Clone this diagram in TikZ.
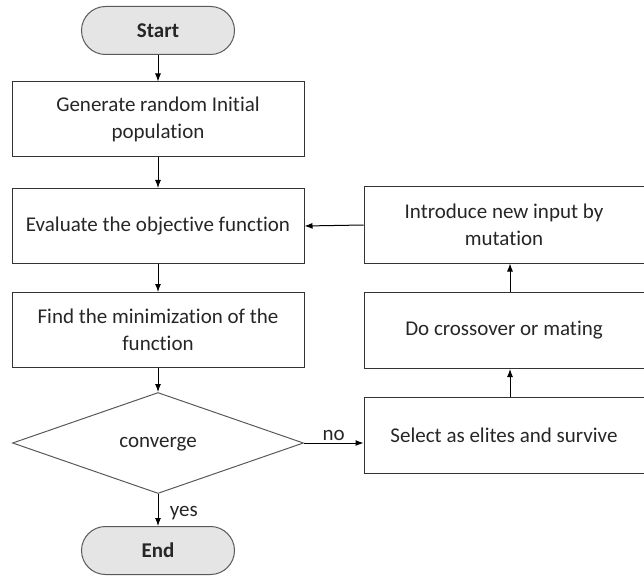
\documentclass[tikz,border=0pt]{standalone}
\usepackage{fontspec}
\setmainfont[Ligatures={NoCommon}]{Carlito}
\usetikzlibrary{shapes.geometric,arrows.meta}
\begin{document}
\begin{tikzpicture}[x=1pt,y=-1pt,
  every node/.style={font=\fontsize{21}{27}\selectfont, text=black!85},
  procbox/.style={draw=black!80, line width=1pt, minimum width=292pt, minimum height=75pt, align=center, inner sep=0pt},
  rbox/.style={draw=black!80, line width=1pt, minimum width=280pt, minimum height=76pt, align=center, inner sep=0pt},
  term/.style={draw=black!65, line width=1pt, fill=black!10, rounded corners=24pt, minimum width=153pt, minimum height=48pt, font=\fontsize{21}{27}\selectfont\bfseries},
  dec/.style={draw=black!65, line width=1pt, diamond, minimum width=291pt, minimum height=101pt, aspect=2.9, inner sep=0pt},
  arr/.style={draw=black, line width=1pt, -{Latex[length=8pt,width=6pt]}}
]
\useasboundingbox (0,0) rectangle (644,577);
\node[term] (start) at (158,30.5) {Start};
\node[procbox] (gen) at (158,119.5) {Generate random Initial\\population};
\node[procbox] (eval) at (158,226) {Evaluate the objective function};
\node[procbox] (find) at (158,330) {Find the minimization of the\\function};
\node[dec] (conv) at (158,443) {};
\node at (158,444) {converge};
\node[term] (end) at (158,550.5) {End};
\node[rbox] (mut) at (504,225) {Introduce new input by\\mutation};
\node[rbox] (cross) at (504,330.5) {Do crossover or mating};
\node[rbox] (sel) at (504,435.5) {Select as elites and survive};
\draw[arr] (start) -- (gen);
\draw[arr] (gen) -- (eval);
\draw[arr] (eval) -- (find);
\draw[arr] (find) -- (conv.north);
\draw[arr] (conv.south) -- node[right, pos=0.6, xshift=8pt] {yes} (end);
\draw[arr] (conv.east) -- node[above, yshift=-1pt] {no} (conv.east -| sel.west);
\draw[arr] (sel.north -| 510,0) -- (cross.south -| 510,0);
\draw[arr] (cross.north -| 510,0) -- (mut.south -| 510,0);
\draw[arr] (mut.west) -- (eval.east);
\end{tikzpicture}
\end{document}
